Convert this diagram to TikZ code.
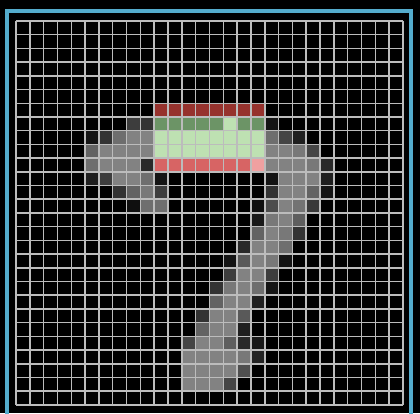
\documentclass[tikz,border=0pt]{standalone}
\usepackage{tikz}
\usetikzlibrary{calc}
\definecolor{frameblue}{RGB}{84,172,204}
\definecolor{gridgray}{RGB}{188,188,188}
\definecolor{hlredA}{RGB}{150,50,45}
\definecolor{hlredB}{RGB}{215,100,100}
\definecolor{hlpink}{RGB}{240,160,160}
\definecolor{hlgreenA}{RGB}{108,148,102}
\definecolor{hlgreenB}{RGB}{190,225,178}
\begin{document}
\begin{tikzpicture}[x=1pt,y=-1pt]
        % canvas
        \useasboundingbox(0,0)rectangle(420,413);
        \clip(0,0)rectangle(420,413);
        \path[fill=black](0,0)rectangle(420,413);
        % frame
        \path[draw=frameblue, line width=4pt](7,11)rectangle(411,440);
        % digit pixels (column/row/brightness)
        \foreach \c/\r/\v in {8/7/24,9/7/20,
            5/8/8,6/8/20,7/8/43,8/8/51,9/8/51,
            5/9/39,6/9/51,7/9/51,8/9/51,9/9/51,
            5/10/43,6/10/51,7/10/51,8/10/51,9/10/16,
            5/11/12,6/11/24,7/11/51,8/11/51,9/11/43,10/11/8,
            7/12/20,8/12/39,9/12/47,10/12/24,
            8/13/6,9/13/43,10/13/43,
            18/7/8,
            18/8/43,19/8/27,20/8/12,
            18/9/51,19/9/51,20/9/47,21/9/27,
            18/10/51,19/10/51,20/10/51,21/10/47,22/10/16,
            18/11/8,19/11/51,20/11/51,21/11/51,22/11/12,
            18/12/20,19/12/51,20/12/51,21/12/39,22/12/8,
            17/13/6,18/13/30,19/13/51,20/13/45,21/13/22,
            17/14/10,18/14/47,19/14/51,20/14/37,
            17/15/39,18/15/51,19/15/47,20/15/20,
            16/16/16,17/16/51,18/16/51,19/16/43,
            15/17/8,16/17/35,17/17/51,18/17/47,19/17/8,
            15/18/24,16/18/51,17/18/51,18/18/24,
            14/19/20,15/19/47,16/19/51,17/19/43,18/19/8,
            14/20/39,15/20/51,16/20/51,17/20/12,
            13/21/20,14/21/51,15/21/51,16/21/35,
            13/22/39,14/22/51,15/22/51,16/22/12,
            12/23/27,13/23/51,14/23/51,15/23/37,16/23/16,17/23/10,
            12/24/51,13/24/51,14/24/51,15/24/51,16/24/47,17/24/14,
            12/25/51,13/25/51,14/25/51,15/25/51,16/25/31,
            12/26/51,13/26/51,14/26/51,15/26/27}
        {
            \path[fill=white!\v!black]({16+13.82*\c},{21+13.71*\r})rectangle({16+13.82*(\c+1)},{21+13.71*(\r+1)});
        }
        % kernel window
        \foreach \c in {10,...,17}
        {
            \path[fill=hlredA]({16+13.82*\c},{21+13.71*6})rectangle({16+13.82*(\c+1)},{21+13.71*7});
            \path[fill=hlgreenA]({16+13.82*\c},{21+13.71*7})rectangle({16+13.82*(\c+1)},{21+13.71*8});
            \path[fill=hlgreenB]({16+13.82*\c},{21+13.71*8})rectangle({16+13.82*(\c+1)},{21+13.71*10});
            \path[fill=hlredB]({16+13.82*\c},{21+13.71*10})rectangle({16+13.82*(\c+1)},{21+13.71*11});
        }
        \path[fill=hlgreenB]({16+13.82*15},{21+13.71*7})rectangle({16+13.82*16},{21+13.71*8});
        \path[fill=hlpink]({16+13.82*17},{21+13.71*10})rectangle({16+13.82*18},{21+13.71*11});
        % grid
        \foreach \i in {0,...,28}
        {
            \path[draw=gridgray, line width=1.5pt]({16+13.82*\i},21)to({16+13.82*\i},405);
            \path[draw=gridgray, line width=1.5pt](16,{21+13.71*\i})to(403,{21+13.71*\i});
        }
    \end{tikzpicture}
\end{document}
